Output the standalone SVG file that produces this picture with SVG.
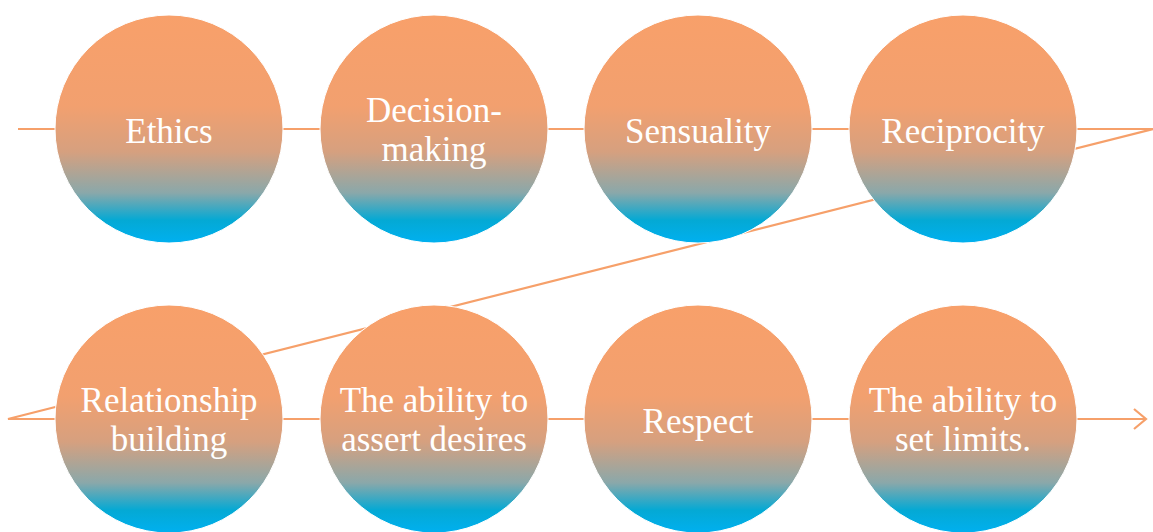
<svg xmlns="http://www.w3.org/2000/svg" width="1153" height="532" viewBox="0 0 1153 532">
<defs>
<linearGradient id="g" x1="0" y1="0" x2="0" y2="1">
<stop offset="0" stop-color="#F8A06A"/>
<stop offset="0.4" stop-color="#F2A06F"/>
<stop offset="0.6" stop-color="#D6A07F"/>
<stop offset="0.78" stop-color="#8AA8AA"/>
<stop offset="0.9" stop-color="#04A9D4"/>
<stop offset="1" stop-color="#00B0F0"/>
</linearGradient>
<marker id="arr" markerWidth="16" markerHeight="24" refX="14" refY="12" orient="auto" markerUnits="userSpaceOnUse">
<path d="M2,2 L14,12 L2,22" fill="none" stroke="#F6A06A" stroke-width="2.2"/>
</marker>
<style>
.c{fill:url(#g);stroke:#FFFFFF;stroke-width:1}
.t{font-family:"Liberation Serif","DejaVu Serif",serif;font-size:35px;fill:#FFFFFF;text-anchor:middle}
.l{fill:none;stroke:#F6A06A;stroke-width:2.2}
</style>
</defs>
<g id="connectors">
<path class="l" d="M18,129 H1153 L8,419 H1146" marker-end="url(#arr)"/>
</g>
<g id="n1"><circle class="c" cx="169" cy="129" r="114"/><text class="t" x="169" y="143">Ethics</text></g>
<g id="n2"><circle class="c" cx="434" cy="129" r="114"/><text class="t" x="434" y="122">Decision-</text><text class="t" x="434" y="161">making</text></g>
<g id="n3"><circle class="c" cx="698" cy="129" r="114"/><text class="t" x="698" y="143">Sensuality</text></g>
<g id="n4"><circle class="c" cx="963" cy="129" r="114"/><text class="t" x="963" y="143">Reciprocity</text></g>
<g id="n5"><circle class="c" cx="169" cy="419" r="114"/><text class="t" x="169" y="412">Relationship</text><text class="t" x="169" y="451">building</text></g>
<g id="n6"><circle class="c" cx="434" cy="419" r="114"/><text class="t" x="434" y="412">The ability to</text><text class="t" x="434" y="451">assert desires</text></g>
<g id="n7"><circle class="c" cx="698" cy="419" r="114"/><text class="t" x="698" y="433">Respect</text></g>
<g id="n8"><circle class="c" cx="963" cy="419" r="114"/><text class="t" x="963" y="412">The ability to</text><text class="t" x="963" y="451">set limits.</text></g>
</svg>
